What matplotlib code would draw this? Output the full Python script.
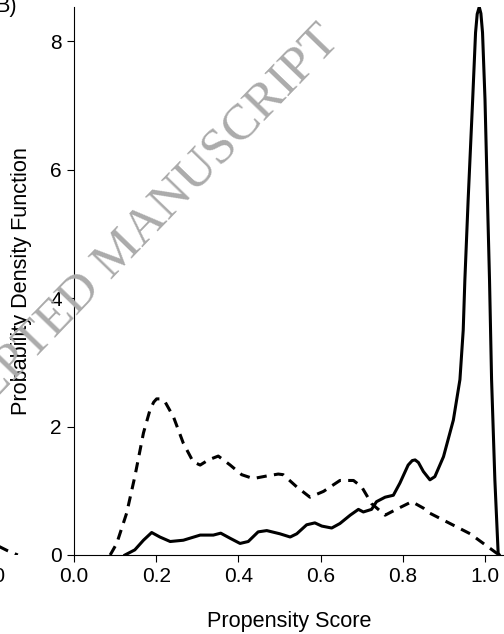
import matplotlib
matplotlib.use('Agg')
import matplotlib.pyplot as plt

# propensity score densities
# dashed line (untreated)
ctrl_x = [0.088, 0.104, 0.128, 0.148, 0.169, 0.185, 0.194, 0.201, 0.210, 0.221,
          0.242, 0.266, 0.290, 0.307, 0.327, 0.351, 0.380, 0.408, 0.436, 0.469,
          0.497, 0.509, 0.542, 0.574, 0.607, 0.647, 0.680, 0.700, 0.724, 0.757,
          0.781, 0.822, 0.850, 0.866, 0.915, 0.964, 0.996, 1.028, 1.036]
ctrl_y = [0.0, 0.18, 0.65, 1.22, 1.90, 2.26, 2.38, 2.43, 2.43, 2.39,
          2.15, 1.74, 1.45, 1.40, 1.48, 1.54, 1.40, 1.25, 1.19, 1.23,
          1.26, 1.25, 1.06, 0.90, 0.99, 1.16, 1.16, 1.06, 0.80, 0.62,
          0.70, 0.83, 0.73, 0.65, 0.49, 0.33, 0.18, 0.03, 0.0]

# solid line (treated)
trt_x = [0.124, 0.148, 0.169, 0.189, 0.209, 0.234, 0.266, 0.307, 0.339, 0.357,
         0.380, 0.404, 0.424, 0.448, 0.469, 0.501, 0.526, 0.542, 0.566, 0.586,
         0.603, 0.627, 0.647, 0.672, 0.692, 0.704, 0.724, 0.736, 0.757, 0.777,
         0.793, 0.813, 0.823, 0.830, 0.838, 0.850, 0.866, 0.878, 0.899, 0.923,
         0.939, 0.947, 0.951, 0.959, 0.970, 0.977, 0.981, 0.986, 0.990, 0.994,
         1.000, 1.006, 1.011, 1.016, 1.024, 1.032, 1.035]
trt_y = [0.0, 0.08, 0.23, 0.35, 0.28, 0.21, 0.23, 0.31, 0.31, 0.34,
         0.26, 0.18, 0.21, 0.36, 0.38, 0.33, 0.28, 0.33, 0.47, 0.50,
         0.45, 0.42, 0.49, 0.62, 0.71, 0.67, 0.71, 0.83, 0.90, 0.93,
         1.12, 1.40, 1.47, 1.48, 1.44, 1.30, 1.17, 1.22, 1.53, 2.10,
         2.73, 3.50, 4.28, 5.53, 7.09, 8.13, 8.42, 8.53, 8.43, 8.13,
         7.09, 5.53, 4.28, 2.73, 1.17, 0.03, 0.0]

# tail of panel A, only a sliver is visible at the left edge
tail_x = [0.985, 1.010, 1.036]
tail_y = [0.15, 0.07, 0.0]

xticks = [0.0, 0.2, 0.4, 0.6, 0.8, 1.0]
yticks = [0, 2, 4, 6, 8]

W, H = 504, 634
plt.rcParams['font.family'] = ['Liberation Sans', 'DejaVu Sans']

fig = plt.figure(figsize=(W / 100, H / 100), dpi=100)

# panel B
left, right, bottom, top = 74, 504, 555, 7
ax = fig.add_axes([left / W, 1 - bottom / H, (right - left) / W, (bottom - top) / H])
ax.plot(ctrl_x, ctrl_y, color='black', lw=2.2, dashes=(3.3, 2.4))
ax.plot(trt_x, trt_y, color='black', lw=2.2, solid_joinstyle='round')
ax.set_xlim(0, (right - left) / 411.0)
ax.set_ylim(0, 8.53)
ax.set_xticks(xticks)
ax.set_xticklabels(['%.1f' % v for v in xticks])
ax.set_yticks(yticks)
ax.tick_params(direction='out', length=5.2, width=0.8, labelsize=15, pad=3.6)
for s in ['top', 'right']:
    ax.spines[s].set_visible(False)
for s in ['left', 'bottom']:
    ax.spines[s].set_linewidth(0.8)
ax.set_xlabel('Propensity Score', fontsize=15.6)
ax.set_ylabel('Probability Density Function', fontsize=15.6)
ax.xaxis.set_label_coords(0.5, (bottom - 622) / (bottom - top))
ax.xaxis.label.set_va('center')
ax.yaxis.set_label_coords((22 - left) / (right - left), 0.5)
ax.yaxis.label.set_va('center')

# sliver of panel A
axa = fig.add_axes([(left - 482) / W, 1 - bottom / H, (right - left) / W, (bottom - top) / H])
axa.plot(tail_x, tail_y, color='black', lw=2.2, dashes=(3.3, 2.4))
axa.set_xlim(0, (right - left) / 411.0)
axa.set_ylim(0, 8.53)
axa.axis('off')
fig.text(6 / W, 1 - 567 / H, '1.0', ha='right', va='top', fontsize=15)

fig.text(17 / W, 1 - 12 / H, 'B)', ha='right', va='baseline', fontsize=15.6)

# journal watermark
fig.text(120 / W, 1 - 252 / H, 'ACCEPTED MANUSCRIPT', fontsize=37,
         family=['Liberation Serif', 'DejaVu Serif'], color='#ababab',
         rotation=46, rotation_mode='anchor', ha='center', va='center', zorder=0)

fig.savefig('out.png', dpi=100)
